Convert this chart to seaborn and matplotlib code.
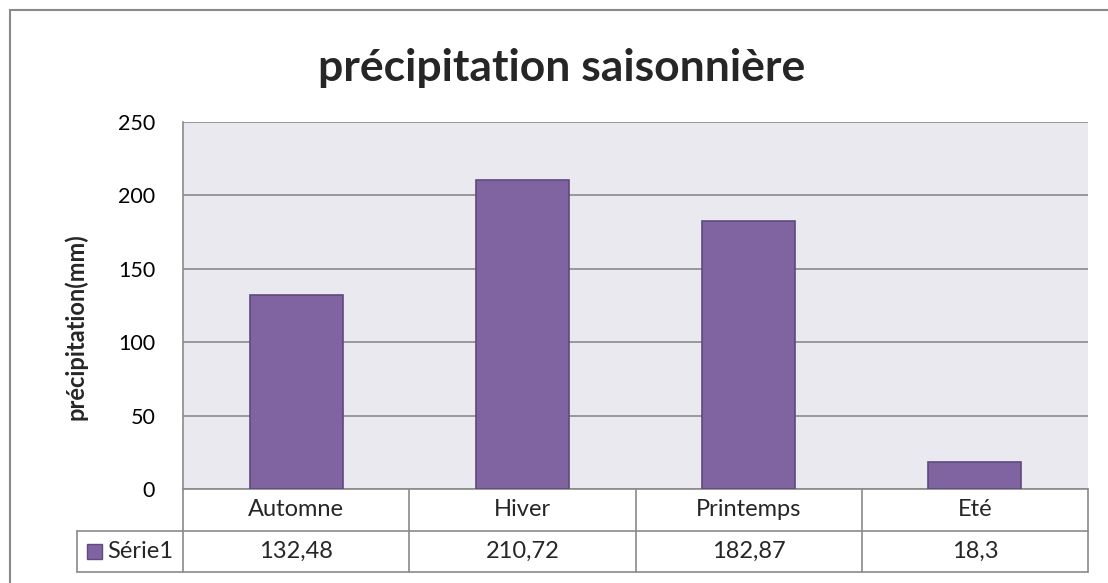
import matplotlib
matplotlib.use("Agg")
import matplotlib.pyplot as plt
import seaborn as sns
import pandas as pd
from matplotlib.patches import Rectangle
from matplotlib.lines import Line2D
import matplotlib.transforms as mtrans

categories = ["Automne", "Hiver", "Printemps", "Eté"]
values = [132.48, 210.72, 182.87, 18.3]
value_labels = ["132,48", "210,72", "182,87", "18,3"]
series_name = "Série1"
yticks = [0, 50, 100, 150, 200, 250]

sns.set_theme(style="white")
plt.rcParams["font.family"] = ["Lato", "DejaVu Sans"]

W, H = 1108, 583
fig = plt.figure(figsize=(W / 100, H / 100), dpi=100)
fig.patch.set_facecolor("white")

def fx(px):
    return px / W

def fy(py):
    return 1 - py / H

left, right, top, bottom = 183, 1088, 122, 489
ax = fig.add_axes([fx(left), fy(bottom), fx(right - left), (bottom - top) / H])
ax.set_facecolor("#EBE9F0")

df = pd.DataFrame({"saison": categories, "precip": values})
sns.barplot(data=df, x="saison", y="precip", color="#8064A2", saturation=1,
            width=0.41, edgecolor="#5E4A7C", linewidth=1.2, ax=ax, zorder=3)

ax.set_ylim(0, 250)
ax.set_xlim(-0.5, len(categories) - 0.5)
ax.set_yticks(yticks)
ax.set_yticklabels([str(t) for t in yticks], fontsize=15.5, color="black")
ax.tick_params(axis="y", length=0, pad=20)
ax.set_xticks([])
ax.set_xlabel("")
ax.set_ylabel("")
ax.yaxis.grid(True, color="#8A8A8A", linewidth=1.2, zorder=1)
ax.set_axisbelow(True)
for s in ["top", "right", "bottom"]:
    ax.spines[s].set_visible(False)
ax.spines["left"].set_color("#8A8A8A")
ax.spines["left"].set_linewidth(1.2)

# y label
fig.text(fx(76), fy(327), "précipitation(mm)", rotation=90, ha="center", va="center",
         fontsize=17, fontweight="bold")

# title
fig.text(fx(562), fy(68), "précipitation saisonnière", ha="center", va="center",
         fontsize=32, fontweight="bold")

# data table (drawn beneath axes)
row_h = 41.5 / (bottom - top)
trans = mtrans.blended_transform_factory(ax.transData, ax.transAxes)
grid_c = "#8A8A8A"
lw = 1.2
n = len(categories)
ax.add_line(Line2D([-0.5, n - 0.5], [0, 0], transform=trans, color=grid_c, lw=lw, clip_on=False))
legend_left = -0.5 - (left - 77) / ((right - left) / n)
ax.add_line(Line2D([legend_left, n - 0.5], [-row_h, -row_h], transform=trans, color=grid_c, lw=lw, clip_on=False))
ax.add_line(Line2D([legend_left, n - 0.5], [-2 * row_h, -2 * row_h], transform=trans, color=grid_c, lw=lw, clip_on=False))
for i in range(n + 1):
    ax.add_line(Line2D([i - 0.5, i - 0.5], [0, -2 * row_h], transform=trans, color=grid_c, lw=lw, clip_on=False))
ax.add_line(Line2D([legend_left, legend_left], [-row_h, -2 * row_h], transform=trans, color=grid_c, lw=lw, clip_on=False))

for i, (c, v) in enumerate(zip(categories, value_labels)):
    ax.text(i, -row_h / 2, c, transform=trans, ha="center", va="center", fontsize=17, clip_on=False)
    ax.text(i, -1.5 * row_h, v, transform=trans, ha="center", va="center", fontsize=17, clip_on=False)

# legend key in table
col_px = (right - left) / n
sq_w = 15 / col_px
sq_h = 15 / (bottom - top)
ax.add_patch(Rectangle((legend_left + 10 / col_px, -1.5 * row_h - sq_h / 2), sq_w, sq_h,
                       transform=trans, facecolor="#8064A2", edgecolor="#5E4A7C",
                       lw=1, clip_on=False))
ax.text(legend_left + 30 / col_px, -1.5 * row_h, series_name, transform=trans, ha="left",
        va="center", fontsize=17, clip_on=False)

# outer chart border (right and bottom edges lie outside the image)
fig.add_artist(Rectangle((fx(10), fy(620)), fx(1130 - 10), (620 - 10) / H,
                         transform=fig.transFigure, fill=False, edgecolor="#8A8A8A", lw=1.5))

fig.savefig("out.png", dpi=100)
